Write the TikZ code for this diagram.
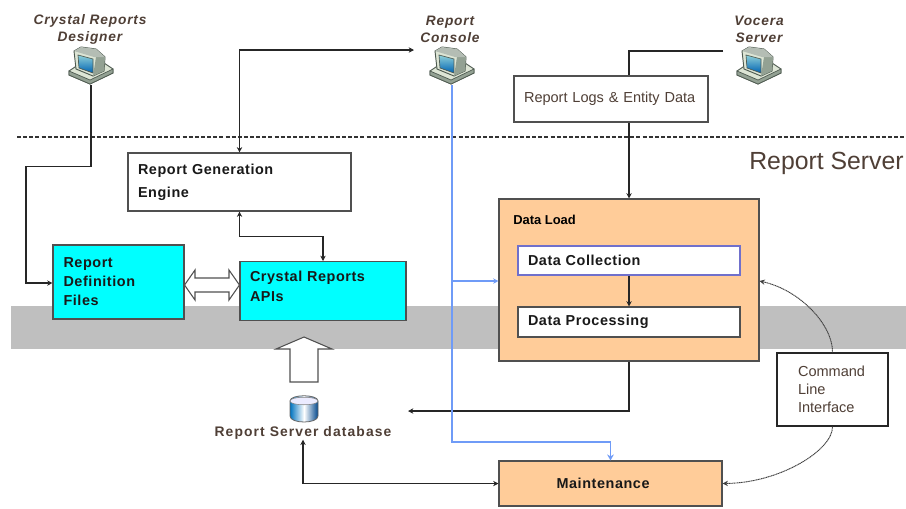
\documentclass[tikz,border=0pt]{standalone}
\usepackage{fontspec}
\setmainfont{Liberation Sans}
\usetikzlibrary{arrows.meta,calc}
\definecolor{brownt}{HTML}{4F3F36}
\definecolor{cyanb}{HTML}{00FFFF}
\definecolor{orangeb}{HTML}{FFCC99}
\definecolor{bandc}{HTML}{BFBFBF}
\definecolor{bluel}{HTML}{6F9BF7}
\definecolor{edgeg}{HTML}{505050}
\definecolor{pcface}{HTML}{DDE5D5}
\definecolor{pcside}{HTML}{93A193}
\definecolor{pcdark}{HTML}{4E5A50}
\tikzset{
  x=0.75pt,y=-0.75pt,
  box/.style n args={2}{draw=edgeg,line width=0.8pt,minimum width=#1*0.75pt,minimum height=#2*0.75pt,inner sep=0pt},
  boldtxt/.style={font=\fontsize{10.8pt}{17pt}\selectfont\bfseries\addfontfeature{LetterSpace=4},align=left,text=black!90},
  plaintxt/.style={font=\fontsize{10.9pt}{13.5pt}\selectfont,align=left,text=brownt},
  hosttxt/.style={font=\fontsize{10.3pt}{13pt}\selectfont\bfseries\itshape\addfontfeature{LetterSpace=6},align=center,text=brownt,inner sep=0pt},
  conn/.style={draw=black!85,line width=0.8pt},
  tip/.style={-{Stealth[length=4pt,width=4pt]}},
  tips/.style={{Stealth[length=4pt,width=4pt]}-{Stealth[length=4pt,width=4pt]}},
  blueconn/.style={draw=bluel,line width=1pt},
  curveconn/.style={draw=black!75,line width=0.7pt,dash pattern=on 0.9pt off 0.4pt},
  hollow/.style={draw=edgeg,fill=white,line width=0.8pt},
  hostnode/.style={minimum width=34.5pt,minimum height=27.75pt,inner sep=0pt},
  computer/.pic={
    \draw[pcdark,line width=0.7pt,fill=pcface] (-22,5) -- (-10,-3) -- (10,-5) -- (22,3) -- (22,7) -- (-1,18) -- (-22,9) -- cycle;
    \draw[pcdark,line width=0.5pt,fill=pcside] (-22,5) -- (-1,14) -- (22,3) -- (22,7) -- (-1,18) -- (-22,9) -- cycle;
    \draw[pcdark,line width=0.7pt,fill=pcface] (-17,-15) -- (-10,-19) -- (5,-17) -- (14,-9) -- (13,5) -- (2,10) -- (-15,3) -- cycle;
    \fill[pcside] (5,-9) -- (14,-9) -- (13,5) -- (2,10) -- cycle;
    \fill[pcside!70!white] (-17,-15) -- (-10,-19) -- (5,-17) -- (14,-9) -- (3,-9) -- cycle;
    \draw[pcdark,line width=0.5pt,top color=blue!12!cyan!35!white!85!black,bottom color=blue!45!cyan!70!black] (-13,-11) -- (2,-7) -- (2,7) -- (-12,2) -- cycle;
  }
}
\begin{document}
\begin{tikzpicture}
\useasboundingbox (0,0) rectangle (906,508);
\fill[white] (0,0) rectangle (906,508);
\fill[bandc] (11,306) rectangle (906,349);
\draw[black!80,line width=0.8pt,dash pattern=on 3pt off 1.6pt] (17,137) -- (906,137);
\node[font=\fontsize{18.6pt}{20pt}\selectfont,text=brownt,inner sep=0pt] (rs) at (826.5,163.5) {Report Server};

% hosts
\node[hostnode] (des) at (91,66) {};
\node[hostnode] (con) at (452,66) {};
\node[hostnode] (voc) at (759,66) {};
\pic at (des) {computer};
\pic at (con) {computer};
\pic at (voc) {computer};
\node[hosttxt] (deslabel) at (90,29.5) {Crystal Reports\\Designer};
\node[hosttxt] (conlabel) at (450,29.5) {Report\\Console};
\node[hosttxt] (voclabel) at (759,29.5) {Vocera\\Server};

% boxes
\node[box={223}{58},fill=white,boldtxt,text width=203*0.75pt] (gen) at (239.5,182) {\raisebox{0.8pt}{Report Generation}\\\raisebox{0.8pt}{Engine}};
\node[box={194}{46},fill=white,plaintxt,text width=174*0.75pt] (rl) at (611,99) {Report Logs \& Entity Data};
\node[box={260}{162},fill=orangeb] (dl) at (629,280) {};
\node[font=\fontsize{9.7pt}{11pt}\selectfont\bfseries,text=black,anchor=west,inner sep=0pt] (dltxt) at (513,220) {Data Load};
\node[box={222}{29},draw=blue!45!white!80!black,fill=white,boldtxt,text width=202*0.75pt] (dc) at (629,260.5) {\raisebox{-0.7pt}{Data Collection}};
\node[box={222}{30},fill=white,boldtxt,text width=202*0.75pt] (dp) at (629,322) {\raisebox{-1.5pt}{Data Processing}};
\node[box={131}{74},fill=cyanb,boldtxt,text width=110*0.75pt,font=\fontsize{10.8pt}{14.2pt}\selectfont\bfseries\addfontfeature{LetterSpace=4}] (rd) at (118.5,282) {\raisebox{0.4pt}{Report}\\\raisebox{0.4pt}{Definition}\\\raisebox{0.4pt}{Files}};
\node[box={166}{59},fill=cyanb,boldtxt,text width=146*0.75pt,anchor=north,text depth=23pt,text height=8pt,font=\fontsize{10.8pt}{15pt}\selectfont\bfseries\addfontfeature{LetterSpace=4}] (api) at (323,261) {Crystal Reports\\APIs};
\node[box={223}{45},fill=orangeb,boldtxt,text width=203*0.75pt] (mnt) at (610.5,483.5) {\hspace*{35.7pt}Maintenance};
\node[box={111}{73},fill=white,plaintxt,text width=69*0.75pt,draw=black!85] (cli) at (832.5,389.5) {\raisebox{0.7pt}{Command}\\\raisebox{0.7pt}{Line}\\\raisebox{0.7pt}{Interface}};

% block arrows
\coordinate (rdr) at (rd.east |- 0,285);
\coordinate (apil) at (api.west |- 0,285);
\draw[hollow] (rdr) -- (195,270) -- (195,278) -- (229,278) -- (229,270) -- (apil) -- (229,300) -- (229,292) -- (195,292) -- (195,300) -- cycle;
\coordinate (uptip) at (304,337);
\draw[hollow] (uptip) -- (332,349) -- (318,349) -- (318,382) -- (290,382) -- (290,349) -- (276,349) -- cycle;

% database
\node[inner sep=0pt,minimum width=21pt,minimum height=19.5pt] (db) at (304,409) {};
\draw[black!60,line width=0.6pt,left color=blue!40!cyan!75!black,right color=blue!50!cyan!55!black,middle color=white] (290,401) .. controls (290,394) and (318,394) .. (318,401) -- (318,416) .. controls (318,424) and (290,424) .. (290,416) -- cycle;
\draw[black!50,line width=0.4pt,fill=blue!8!white] (290,401) .. controls (290,396) and (318,396) .. (318,401) .. controls (318,406) and (290,406) .. (290,401) -- cycle;
\node[font=\fontsize{10.4pt}{11pt}\selectfont\bfseries\addfontfeature{LetterSpace=8},text=brownt,inner sep=0pt] (dbl) at (303,433) {Report Server database};

% connectors
\coordinate (coni) at (414,50);
\coordinate (vocout) at (723,51);
\coordinate (dbin) at (408,411);
\draw[conn,tip] (des.south) -- ++(0,82) -- ++(-65,0) |- (rd.west |- 0,283);
\draw[conn,tips] (coni) -| (gen.north);
\draw[conn,tips] (gen.south) -- ++(0,25) -| (api.north);
\draw[conn] (vocout) -| (dl.north |- rl.north);
\draw[conn,tip] (dl.north |- rl.south) -- (dl.north);
\draw[conn,tip] (dc.south) -- (dp.north);
\draw[conn,tip] (dl.south) |- (dbin);
\draw[conn,tips] (dbl.south) |- (mnt.west);
\draw[blueconn,-{Stealth[open,length=4.5pt,width=5pt]}] (con.south) |- (mnt.north |- 0,442) -- (mnt.north);
\draw[blueconn,-{Stealth[length=4pt,width=4pt]}] (con.south |- 0,281) -- (dl.west |- 0,281);
\draw[curveconn,tip] (cli.north) .. controls (833,325) and (800,290) .. (dl.east |- 0,281);
\draw[curveconn,tip] (cli.south) .. controls (833,450) and (780,483) .. (mnt.east);
\end{tikzpicture}
\end{document}
